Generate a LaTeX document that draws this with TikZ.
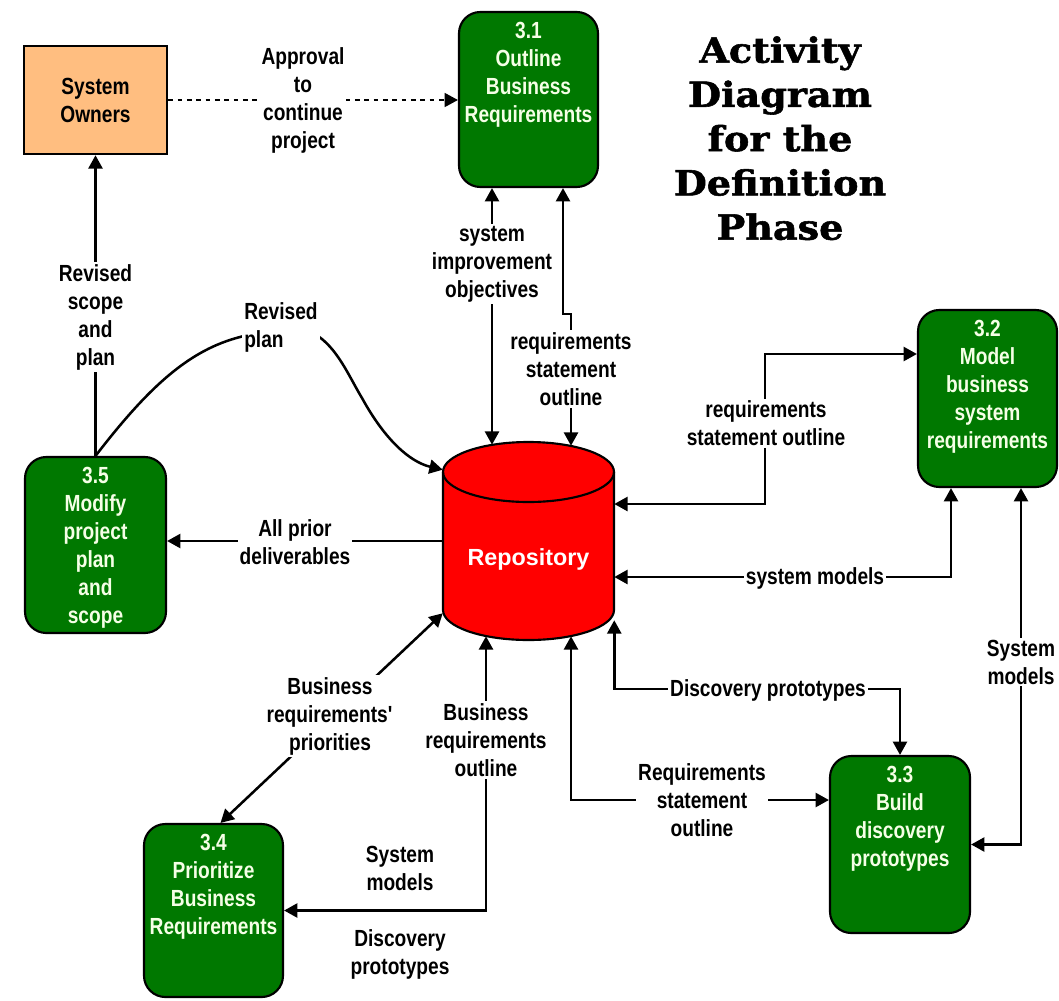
\documentclass[tikz,border=0pt]{standalone}
\usepackage{fontspec}
\setmainfont{Liberation Sans}[FakeStretch=0.82]
\newfontfamily\repofont{Liberation Sans}
\newfontfamily\titlefont{DejaVu Serif}[FakeStretch=1.1,FakeBold=1.6]
\usetikzlibrary{arrows.meta,calc}
\definecolor{procgreen}{RGB}{0,120,0}
\definecolor{ownerorange}{RGB}{255,190,128}
\definecolor{boxtext}{RGB}{245,255,230}
\definecolor{repored}{RGB}{255,0,0}

\begin{document}
\begin{tikzpicture}[x=0.75pt,y=-0.75pt,
  >={Triangle[length=10pt,width=10.5pt]},
  every node/.style={font=\bfseries\fontsize{17.5}{21}\selectfont},
  conn/.style={line width=1.9pt, draw=black},
  proc/.style={draw=black, line width=1.6pt, fill=procgreen, rounded corners=16pt, inner sep=0pt},
  proctext/.style={text=boxtext, align=center, anchor=north, inner sep=0pt, yshift=-8pt},
  lbl/.style={fill=white, align=center, inner sep=1.5pt},
  plain/.style={align=center, inner sep=1pt},
]
\useasboundingbox (0,0) rectangle (1059,1000);

% external entity
\node[draw=black, line width=1.9pt, fill=ownerorange, minimum width={143*0.75pt},
      minimum height={108*0.75pt}, align=center, inner sep=0pt] (so) at (95.5,100) {System\\Owners};

% processes
\node[proc, minimum width={139*0.75pt}, minimum height={175*0.75pt},
      label={[proctext]north:{3.1\\Outline\\Business\\Requirements}}] (s31) at (528.5,99.5) {};
\node[proc, minimum width={139*0.75pt}, minimum height={177*0.75pt},
      label={[proctext]north:{3.2\\Model\\business\\system\\requirements}}] (s32) at (987.5,398.5) {};
\node[proc, minimum width={140*0.75pt}, minimum height={177*0.75pt},
      label={[proctext]north:{3.3\\Build\\discovery\\prototypes}}] (s33) at (900,844.5) {};
\node[proc, minimum width={139*0.75pt}, minimum height={173*0.75pt},
      label={[proctext]north:{3.4\\Prioritize\\Business\\Requirements}}] (s34) at (213.5,910.5) {};
\node[proc, minimum width={141*0.75pt}, minimum height={176*0.75pt},
      label={[proctext]north:{3.5\\Modify\\project\\plan\\and\\scope}}] (s35) at (95.5,545) {};

% data store drawn as a cylinder
\draw[line width=1.6pt, fill=repored] (443,472) -- (443,610)
  arc[start angle=180, end angle=0, x radius=85.5, y radius=30] -- (614,472)
  arc[start angle=0, end angle=-180, x radius=85.5, y radius=30] -- cycle;
\draw[line width=1.6pt] (443,472) arc[start angle=180, end angle=0, x radius=85.5, y radius=30];
\node[minimum width={171*0.75pt}, minimum height={198*0.75pt}, inner sep=0pt,
      label={[yshift=-13.5pt, text=white, font=\repofont\bfseries\fontsize{17.5}{21}\selectfont]center:Repository}]
      (repo) at (528.5,541) {};

% title
\node[font=\titlefont\bfseries\fontsize{26}{33.2}\selectfont, align=center, anchor=north, inner sep=0pt]
      (title) at (780,36) {Activity\\Diagram\\for the\\Definition\\Phase};

% flows
\draw[conn, line width=1.3pt, dash pattern=on 3.5pt off 3.5pt, ->] (so.east) -- (so.east -| s31.west);
\draw[conn, ->] (s35.north) -- (so.south);
\draw[conn, ->] (s35.north) .. controls (150,385) and (190,350) .. (240,337)
  .. controls (262,331) and (275,327) .. (290,327)
  .. controls (330,328) and (345,370) .. (362,398)
  .. controls (385,440) and (410,462) .. ($(repo.north west)+(0,28)$);
\draw[conn, ->] (repo.west) -- (repo.west -| s35.east);
\draw[conn, <->] ($(s31.south)+(-36.5,0)$) -- ($(repo.north)+(-36.5,3)$);
\draw[conn, <->] ($(s31.south)+(34.5,0)$) -- ++(0,126) -- ++(8,0) -- ($(repo.north)+(42.5,4)$);
\draw[conn, <->] ($(repo.east)+(0,-37)$) -| ($(s32.west)+(-152,-44.5)$) -- ($(s32.west)+(0,-44.5)$);
\draw[conn, <->] ($(repo.east)+(0,36)$) -| ($(s32.south)+(-36.5,0)$);
\draw[conn, <->] ($(s32.south)+(33.5,0)$) |- (s33.east);
\draw[conn, <->] ($(repo.south east)+(0,-20)$) |- ($(s33.north)+(0,-66)$) -- (s33.north);
\draw[conn, <->] ($(repo.south)+(42.5,-4)$) |- ($(s33.west)+(0,-44.5)$);
\draw[conn, <->] ($(repo.south)+(-42.5,-4)$) |- (s34.east);
\draw[conn, <->] ($(s34.north)+(7,0)$) -- ($(repo.south west)+(0,-27)$);

% flow labels
\node[lbl] (lappr) at (303,100) {Approval\\to\\continue\\project};
\node[lbl] (lrsp) at (95.5,317) {Revised\\scope\\and\\plan};
\node[lbl, align=left, anchor=west] (lrp) at (242,327) {Revised\\plan};
\node[lbl] (lapd) at (295,542) {All prior\\deliverables};
\node[lbl] (lsio) at (492,264) {system\\improvement\\objectives};
\node[lbl] (lrso1) at (571,369) {requirements\\statement\\outline};
\node[lbl] (lrso2) at (766,423.5) {requirements\\statement outline};
\node[lbl] (lsm1) at (815,578) {system models};
\node[lbl] (lsm2) at (1021,662) {System\\models};
\node[lbl] (ldp1) at (768,690) {Discovery prototypes};
\node[lbl] (lrso3) at (702,800) {Requirements\\statement\\outline};
\node[lbl] (lbro) at (486,740) {Business\\requirements\\outline};
\node[lbl] (lbrp) at (330,716) {Business\\requirements\textquotesingle\\priorities};
\node[plain] (lsm3) at (400,868.5) {System\\models};
\node[plain] (ldp2) at (400,954) {Discovery\\prototypes};
\end{tikzpicture}
\end{document}
